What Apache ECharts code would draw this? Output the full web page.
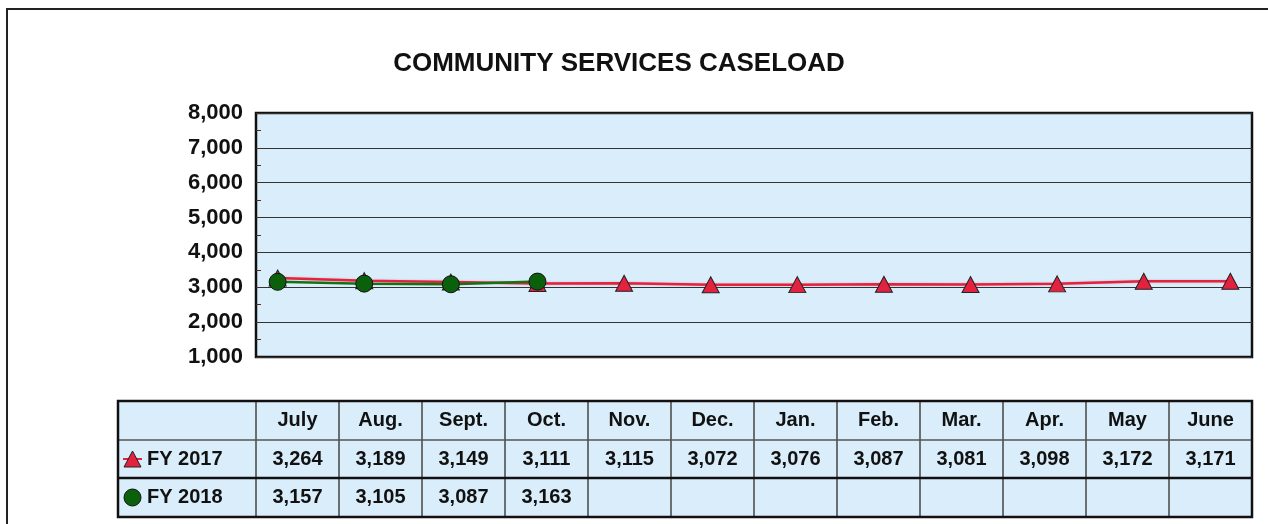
<!DOCTYPE html>
<html>
<head>
<meta charset="utf-8">
<script src="https://cdn.jsdelivr.net/npm/echarts@6/dist/echarts.min.js"></script>
<style>
  html, body { margin: 0; padding: 0; background: #fff; }
  #caseload { width: 1268px; height: 524px; }
</style>
</head>
<body>
<div id="caseload"></div>
<script>
var months = ["July", "Aug.", "Sept.", "Oct.", "Nov.", "Dec.", "Jan.", "Feb.", "Mar.", "Apr.", "May", "June"];
var fy2017 = [3264, 3189, 3149, 3111, 3115, 3072, 3076, 3087, 3081, 3098, 3172, 3171];
var fy2018 = [3157, 3105, 3087, 3163];
var seriesNames = ["FY 2017", "FY 2018"];

var red = "#e3223f";
var green = "#0b610b";
var paleBlue = "#d9edfb";
var font = "Liberation Sans, Arial, sans-serif";

// plot / table geometry
var plotLeft = 256, plotRight = 1252, plotTop = 113, plotBottom = 357;
var tblLeft = 118, tblTop = 401;
var colW = (plotRight - plotLeft) / months.length;
var rowH = [39, 38, 39];

function fmt(v) {
  return v == null ? "" : v.toLocaleString("en-US");
}

function buildTable() {
  var els = [];
  var rowsY = [tblTop, tblTop + rowH[0], tblTop + rowH[0] + rowH[1]];
  var tblBottom = rowsY[2] + rowH[2];
  // background
  els.push({ type: "rect", shape: { x: tblLeft, y: tblTop, width: plotRight - tblLeft, height: tblBottom - tblTop },
    style: { fill: paleBlue, stroke: null } });
  // vertical lines
  for (var i = 0; i <= months.length; i++) {
    var x = plotLeft + i * colW;
    els.push({ type: "line", shape: { x1: x, y1: tblTop, x2: x, y2: tblBottom },
      style: { stroke: "#444", lineWidth: 1.5 } });
  }
  // horizontal row lines
  els.push({ type: "line", shape: { x1: tblLeft, y1: rowsY[1], x2: plotRight, y2: rowsY[1] }, style: { stroke: "#555", lineWidth: 1.5 } });
  els.push({ type: "line", shape: { x1: tblLeft, y1: rowsY[2], x2: plotRight, y2: rowsY[2] }, style: { stroke: "#111", lineWidth: 2.5 } });
  // outer frame
  els.push({ type: "rect", shape: { x: tblLeft, y: tblTop, width: plotRight - tblLeft, height: tblBottom - tblTop },
    style: { fill: null, stroke: "#111", lineWidth: 2.5 }, z: 5 });

  var textStyle = function (txt, x, y, align) {
    return { type: "text", x: x, y: y,
      style: { text: txt, fill: "#111", font: "bold 20px " + font, align: align || "center", verticalAlign: "middle" } };
  };
  months.forEach(function (m, i) {
    var cx = plotLeft + (i + 0.5) * colW;
    els.push(textStyle(m, cx, rowsY[0] + rowH[0] / 2));
    els.push(textStyle(fmt(fy2017[i]), cx, rowsY[1] + rowH[1] / 2));
    els.push(textStyle(fmt(fy2018[i]), cx, rowsY[2] + rowH[2] / 2));
  });
  // row labels with legend icons
  var y1 = rowsY[1] + rowH[1] / 2, y2 = rowsY[2] + rowH[2] / 2;
  els.push({ type: "line", shape: { x1: tblLeft + 5, y1: y1, x2: tblLeft + 24, y2: y1 }, style: { stroke: red, lineWidth: 2 } });
  els.push({ type: "polygon", shape: { points: [[tblLeft + 14.5, y1 - 8], [tblLeft + 23, y1 + 8], [tblLeft + 6, y1 + 8]] },
    style: { fill: red, stroke: "#222", lineWidth: 1 } });
  els.push({ type: "circle", shape: { cx: tblLeft + 14.5, cy: y2, r: 8.5 }, style: { fill: green, stroke: "#111", lineWidth: 1 } });
  els.push(textStyle(seriesNames[0], tblLeft + 29, y1, "left"));
  els.push(textStyle(seriesNames[1], tblLeft + 29, y2, "left"));
  return els;
}

var chart = echarts.init(document.getElementById("caseload"));
var option = {
  animation: false,
  backgroundColor: "#fff",
  title: {
    text: "COMMUNITY SERVICES CASELOAD",
    left: 614, top: 46, textAlign: "center",
    textStyle: { fontFamily: font, fontWeight: "bold", fontSize: 26, color: "#111" }
  },
  grid: { left: plotLeft, right: 1268 - plotRight, top: plotTop, bottom: 524 - plotBottom,
    show: true, backgroundColor: paleBlue, borderColor: "#111", borderWidth: 2.5 },
  xAxis: {
    type: "value", min: -0.25, max: 11.25,
    axisLine: { show: false }, axisTick: { show: false }, axisLabel: { show: false }, splitLine: { show: false }
  },
  yAxis: [
    {
      type: "value", min: 1000, max: 8000, interval: 1000,
      axisLine: { show: false },
      axisTick: { show: false },
      axisLabel: { margin: 13, fontFamily: font, fontWeight: "bold", fontSize: 22, color: "#111",
        formatter: function (v) { return v.toLocaleString("en-US"); } },
      splitLine: { lineStyle: { color: "#333", width: 1 } }
    },
    {
      // half-step tick marks on the inner side of the left edge
      type: "value", position: "left", min: 1000, max: 8000, interval: 500,
      axisLine: { show: false },
      axisTick: { show: true, inside: true, length: 5, lineStyle: { color: "#4a3020" } },
      axisLabel: { show: false },
      splitLine: { show: false }
    }
  ],
  series: [
    {
      name: seriesNames[0], type: "line", z: 3,
      data: fy2017.map(function (v, i) { return [i, v]; }),
      symbol: "triangle", symbolSize: [17, 16],
      lineStyle: { color: red, width: 2.5, shadowColor: "rgba(227,34,63,0.35)", shadowBlur: 2 },
      itemStyle: { color: red, borderColor: "#222", borderWidth: 1 }
    },
    {
      name: seriesNames[1], type: "line", z: 4,
      data: fy2018.map(function (v, i) { return [i, v]; }),
      symbol: "circle", symbolSize: 17,
      lineStyle: { color: "#137313", width: 2.5 },
      itemStyle: { color: green, borderColor: "#111", borderWidth: 1 }
    }
  ],
  graphic: [
    { type: "rect", shape: { x: 7, y: 9, width: 1280, height: 530 },
      style: { fill: null, stroke: "#222", lineWidth: 2 }, z: 10 }
  ].concat(buildTable())
};
chart.setOption(option);
window.addEventListener("resize", function () {
  chart.resize();
});
</script>
</body>
</html>
